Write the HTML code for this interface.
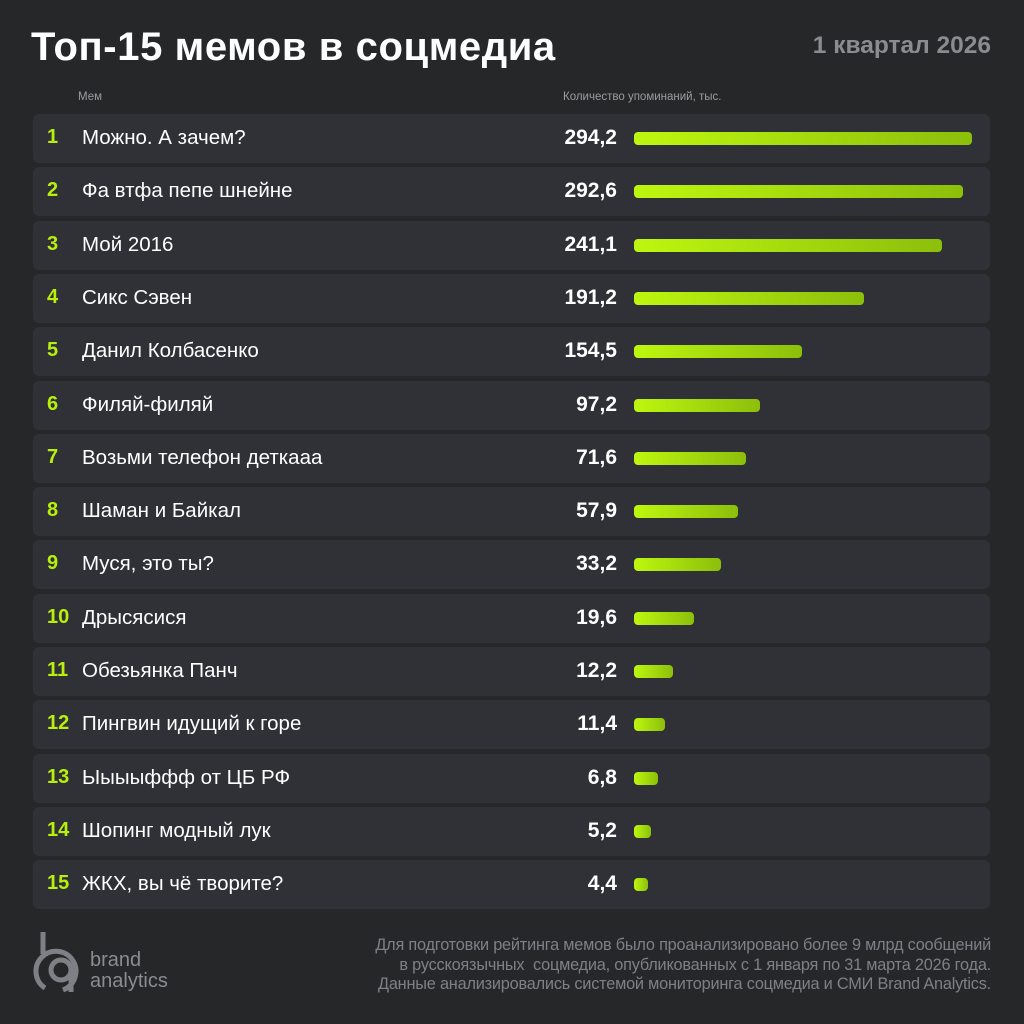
<!DOCTYPE html>
<html><head><meta charset="utf-8"><style>
body{margin:0;width:1024px;height:1024px;background:#262729;font-family:"Liberation Sans","Noto Sans CJK SC",sans-serif;position:relative;overflow:hidden;color:#fff}
.t{position:absolute;left:31px;top:25px;font-size:40px;font-weight:bold;letter-spacing:0.6px}
.q{position:absolute;right:33px;top:32px;font-size:24.5px;font-weight:bold;color:#8a8c90}
.h{position:absolute;top:91px;font-size:11.5px;color:#9a9ca0}
.r{position:absolute;left:33px;width:957px;height:49px;background:#2f3136;border-radius:6px}
.n{position:absolute;left:14px;top:12px;font-size:20px;font-weight:bold;color:#b8f00c}
.m{position:absolute;left:49px;top:12px;font-size:20.5px}
.v{position:absolute;right:373px;top:12px;font-size:21px;font-weight:bold}
.b{position:absolute;left:601px;top:18px;height:13px;border-radius:4px;background:linear-gradient(90deg,#bdf70f,#8cbf0b)}
.f{position:absolute;right:33px;top:936px;font-size:16.3px;line-height:19.5px;color:#7d8085;text-align:right;letter-spacing:-0.2px}
.lg{position:absolute;left:90px;top:950px;font-size:20px;line-height:21px;color:#8a8c90}
</style></head><body>
<div class="t">Топ-15 мемов в соцмедиа</div>
<div class="q">1 квартал 2026</div>
<div class="h" style="left:78px">Мем</div>
<div class="h" style="left:563px">Количество упоминаний, тыс.</div>
<div id="rows"></div>
<svg style="position:absolute;left:33px;top:930px" width="50" height="64" viewBox="0 0 50 64"><g fill="none" stroke="#7d8085" stroke-width="5"><line x1="10" y1="2" x2="10" y2="24"/><path d="M12 58 A20 20 0 1 1 30 60"/><circle cx="28" cy="40" r="10"/><line x1="38" y1="40" x2="38" y2="62"/></g></svg>
<div class="lg">brand<br>analytics</div>
<div class="f">Для подготовки рейтинга мемов было проанализировано более 9 млрд сообщений<br>в русскоязычных&nbsp; соцмедиа, опубликованных с 1 января по 31 марта 2026 года.<br>Данные анализировались системой мониторинга соцмедиа и СМИ Brand Analytics.</div>
<script>
var d=[["Можно. А зачем?","294,2",972],["Фа втфа пепе шнейне","292,6",963],["Мой 2016","241,1",942],["Сикс Сэвен","191,2",864],["Данил Колбасенко","154,5",802],["Филяй-филяй","97,2",760],["Возьми телефон деткааа","71,6",746],["Шаман и Байкал","57,9",738],["Муся, это ты?","33,2",721],["Дрысясися","19,6",694],["Обезьянка Панч","12,2",673],["Пингвин идущий к горе","11,4",665],["Ыыыыффф от ЦБ РФ","6,8",658],["Шопинг модный лук","5,2",651],["ЖКХ, вы чё творите?","4,4",648]];
var h="";d.forEach(function(x,i){var y=114+i*53.3;h+='<div class="r" style="top:'+y+'px"><div class="n">'+(i+1)+'</div><div class="m">'+x[0]+'</div><div class="v">'+x[1]+'</div><div class="b" style="width:'+(x[2]-634)+'px"></div></div>';});
document.getElementById("rows").innerHTML=h;
</script>
</body></html>
